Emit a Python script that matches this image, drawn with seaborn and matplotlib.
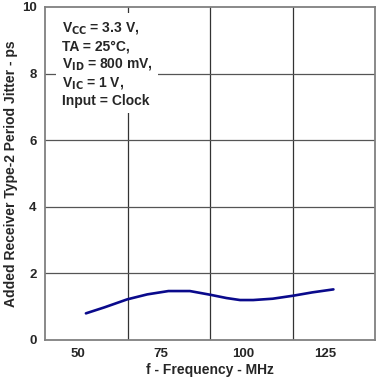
import matplotlib
matplotlib.use("Agg")
import matplotlib.pyplot as plt
import seaborn as sns
import pandas as pd

# Данные
freq_mhz = [52.4, 58.0, 64.9, 71.0, 77.4, 83.9, 90.0, 95.0, 99.1, 103.1, 109.0, 115.2, 121.0, 127.4]
jitter_ps = [0.80, 0.98, 1.22, 1.37, 1.47, 1.47, 1.36, 1.26, 1.20, 1.20, 1.24, 1.33, 1.43, 1.52]
x_ticks = [50, 75, 100, 125]
x_grid = [65, 90, 115]
y_ticks = [0, 2, 4, 6, 8, 10]

df = pd.DataFrame({"freq": freq_mhz, "jitter": jitter_ps})

sns.set_style("white")
plt.rcParams["font.family"] = ["Liberation Sans", "DejaVu Sans"]
plt.rcParams["font.weight"] = "bold"

fig = plt.figure(figsize=(3.77, 3.82), dpi=100)
ax = fig.add_axes([45 / 377, 42 / 382, 330 / 377, 333 / 382])

# вертикальная сетка не совпадает с подписями, как в оригинале
for xg in x_grid:
    ax.axvline(xg, color="#333333", lw=0.9, zorder=1)
for yg in y_ticks[1:-1]:
    ax.axhline(yg, color="#555555", lw=0.9, zorder=1)

sns.lineplot(data=df, x="freq", y="jitter", ax=ax, color="#0A0A8C", lw=1.9, zorder=3)

ax.set_xlim(40, 140)
ax.set_ylim(0, 10)
ax.set_xticks(x_ticks)
ax.set_yticks(y_ticks)
ax.tick_params(length=0, labelsize=9.5, pad=6)
for lab in ax.get_xticklabels() + ax.get_yticklabels():
    lab.set_fontweight("bold")

for s in ax.spines.values():
    s.set_color("#808080")
    s.set_linewidth(1.3)

ax.set_xlabel("f - Frequency - MHz", fontsize=10, fontweight="bold", labelpad=2)
ax.set_ylabel("Added Receiver Type-2 Period Jitter - ps", fontsize=10, fontweight="bold", labelpad=3)

note = ("V$_\\mathbf{CC}$ = 3.3 V,\nTA = 25°C,\nV$_\\mathbf{ID}$ = 800 mV,\n"
        "V$_\\mathbf{IC}$ = 1 V,\nInput = Clock")
ax.text(0.05, 0.96, note, transform=ax.transAxes, ha="left", va="top",
        fontsize=10, fontweight="bold", linespacing=1.25, zorder=4,
        bbox=dict(facecolor="white", edgecolor="none", pad=4))

fig.savefig("out.png", dpi=100)
